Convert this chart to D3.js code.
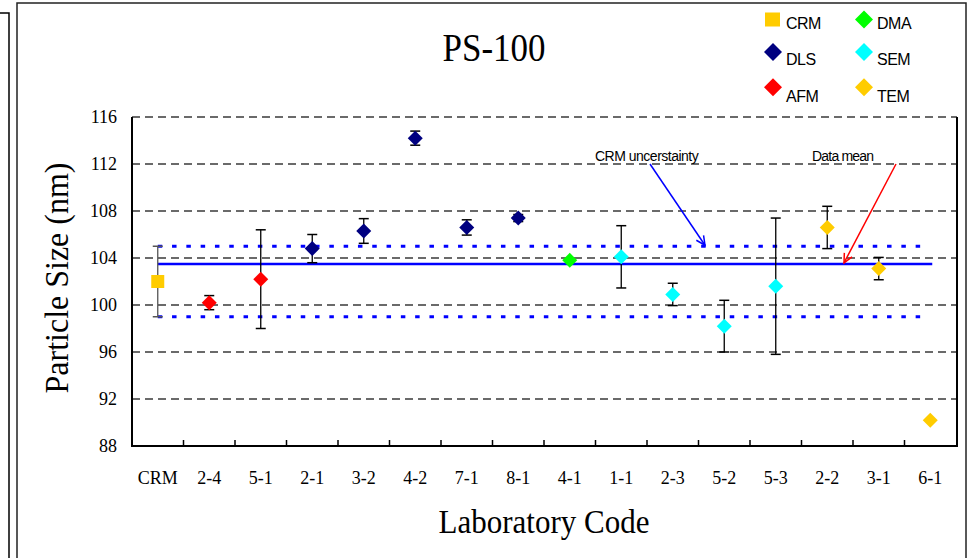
<!DOCTYPE html>
<html><head><meta charset="utf-8">
<script src="https://cdn.jsdelivr.net/npm/d3@7"></script>
<style>html,body{margin:0;padding:0;background:#fff;}svg{display:block;}</style>
</head><body>
<svg id="chart" width="973" height="558"></svg>
<script>
// ---- data ----
const labs = ["CRM","2-4","5-1","2-1","3-2","4-2","7-1","8-1","4-1","1-1","2-3","5-2","5-3","2-2","3-1","6-1"];
const methods = ["CRM","AFM","AFM","DLS","DLS","DLS","DLS","DLS","DMA","SEM","SEM","SEM","SEM","TEM","TEM","TEM"];
const sizes = [102.0,100.2,102.2,104.8,106.3,114.2,106.6,107.4,103.8,104.1,100.9,98.2,101.6,106.6,103.1,90.2];
const uncert = [3.0,0.6,4.2,1.2,1.05,0.6,0.65,0.3,0,2.65,0.95,2.2,5.8,1.8,0.95,0];
const yTicks = [88,92,96,100,104,108,112,116];
const meanVal = 103.5;
const crmLow = 99.0, crmHigh = 105.0;
const legendItems = ["CRM","DMA","DLS","SEM","AFM","TEM"];
const colors = {CRM:"#FFCC00", DLS:"#000080", AFM:"#FF0000", DMA:"#00FF00", SEM:"#00FFFF", TEM:"#FFCC00"};

const svg = d3.select("#chart");
const L = 132, R = 957, T = 117, B = 446;
const x = d3.scaleBand().domain(labs).range([L, R - 1]).padding(0);
const y = d3.scaleLinear().domain([88,116]).range([B, T]);
const cx = d => x(d) + x.bandwidth()/2;

// frames
svg.append("path").attr("d","M0,13H9V558").attr("fill","none").attr("stroke","#000").attr("stroke-width",1.5);
svg.append("rect").attr("x",17).attr("y",3).attr("width",949).attr("height",600)
  .attr("fill","none").attr("stroke","#222").attr("stroke-width",1.5);

// gridlines
svg.append("g").selectAll("line").data(yTicks.filter(v => v > 88)).join("line")
  .attr("x1", L).attr("x2", R).attr("y1", d => y(d)).attr("y2", d => y(d))
  .attr("stroke","#3a3a3a").attr("stroke-width",1.3).attr("stroke-dasharray","8 5");

// axes lines
svg.append("path").attr("d",`M${L},${T}V${B}H${R}V${T}`).attr("fill","none").attr("stroke","#000").attr("stroke-width",2);
// inner category ticks
svg.append("g").selectAll("line").data(labs.slice(1)).join("line")
  .attr("x1", d => x(d)).attr("x2", d => x(d)).attr("y1", B).attr("y2", B-6)
  .attr("stroke","#000").attr("stroke-width",1.5);

const fSerif = "'Liberation Serif','Times New Roman',serif";
const fSans = "'Liberation Sans',Arial,sans-serif";

const gx = svg.append("g").attr("transform",`translate(0,${B})`)
  .call(d3.axisBottom(x).tickSize(0).tickPadding(25));
gx.select(".domain").remove();
gx.selectAll("text").attr("font-family",fSerif).attr("font-size",18).attr("fill","#000");

const gy = svg.append("g").attr("transform",`translate(${L},0)`)
  .call(d3.axisLeft(y).tickValues(yTicks).tickSize(0).tickPadding(15).tickFormat(d3.format("d")));
gy.select(".domain").remove();
gy.selectAll("text").attr("font-family",fSerif).attr("font-size",18).attr("fill","#000");

// CRM uncertainty dotted lines and mean line
const xs = cx(labs[0]), xe = cx(labs[labs.length-1]);
[crmHigh, crmLow].forEach(v => {
  svg.append("line").attr("x1",xs).attr("x2",xe-6).attr("y1",y(v)).attr("y2",y(v))
    .attr("stroke","#0000FF").attr("stroke-width",3).attr("stroke-dasharray","4.5 9.8");
});
svg.append("line").attr("x1",xs).attr("x2",xe+2).attr("y1",y(meanVal)).attr("y2",y(meanVal))
  .attr("stroke","#0000FF").attr("stroke-width",2.5);

// error bars
const eb = svg.append("g");
labs.forEach((lab,i) => {
  const u = uncert[i]; if (!u) return;
  const c = cx(lab), y1 = y(sizes[i]+u), y2 = y(sizes[i]-u);
  const col = i === 0 ? "#555" : "#000";
  eb.append("line").attr("x1",c).attr("x2",c).attr("y1",y1).attr("y2",y2).attr("stroke",col).attr("stroke-width",1.3);
  [y1,y2].forEach(yy => eb.append("line").attr("x1",c-5).attr("x2",c+5).attr("y1",yy).attr("y2",yy).attr("stroke",col).attr("stroke-width",1.5));
});

// markers
const diamond = (c, yy, h) => `M${c},${yy-h}L${c+h},${yy}L${c},${yy+h}L${c-h},${yy}Z`;
labs.forEach((lab,i) => {
  const m = methods[i], c = cx(lab), yy = y(sizes[i]);
  if (m === "CRM") {
    svg.append("rect").attr("x",c-6.5).attr("y",yy-6.5).attr("width",13).attr("height",13).attr("fill",colors[m]);
  } else {
    svg.append("path").attr("d",diamond(c,yy,7.5)).attr("fill",colors[m]);
  }
});

// title and axis titles (slightly tall, like the reference)
svg.append("text").attr("transform","translate(494,61) scale(1,1.12)").attr("text-anchor","middle")
  .attr("font-family",fSerif).attr("font-size",35).text("PS-100");
svg.append("text").attr("transform","translate(68,278) rotate(-90) scale(1,1.08)").attr("text-anchor","middle")
  .attr("font-family",fSerif).attr("font-size",32).text("Particle Size (nm)");
svg.append("text").attr("transform","translate(544,533) scale(1,1.1)").attr("text-anchor","middle")
  .attr("font-family",fSerif).attr("font-size",31).text("Laboratory Code");

// annotations
function arrow(x1,y1,x2,y2,col){
  svg.append("line").attr("x1",x1).attr("y1",y1).attr("x2",x2).attr("y2",y2).attr("stroke",col).attr("stroke-width",1.5);
  const a = Math.atan2(y2-y1,x2-x1), len = 10, sp = 0.45;
  const p1 = [x2 - len*Math.cos(a-sp), y2 - len*Math.sin(a-sp)];
  const p2 = [x2 - len*Math.cos(a+sp), y2 - len*Math.sin(a+sp)];
  svg.append("path").attr("d",`M${p1[0]},${p1[1]}L${x2},${y2}L${p2[0]},${p2[1]}`)
    .attr("fill","none").attr("stroke",col).attr("stroke-width",1.5);
}
svg.append("text").attr("x",595).attr("y",161).attr("font-family",fSans).attr("font-size",14)
  .attr("letter-spacing",-0.5).text("CRM uncerstainty");
arrow(650,164,705,y(crmHigh)-1,"#0000FF");
svg.append("text").attr("x",812).attr("y",161).attr("font-family",fSans).attr("font-size",14)
  .attr("letter-spacing",-0.8).text("Data mean");
arrow(896,164,844,y(meanVal)-1,"#FF0000");

// legend
const lg = svg.append("g");
const legPos = [[773,19.5,22.7],[864,19.5,22.7],[773,52,59],[864,52,59],[773,87.3,96],[864,87.3,96]];
legendItems.forEach((m,i) => {
  const [lx, ly, ty] = legPos[i];
  if (m === "CRM") lg.append("rect").attr("x",lx-8).attr("y",ly-7).attr("width",15).attr("height",14).attr("fill",colors[m]);
  else lg.append("path").attr("d",diamond(lx,ly,9)).attr("fill",colors[m]);
  lg.append("text").attr("x",lx+13).attr("y",ty+6).attr("font-family",fSans).attr("font-size",16)
    .attr("letter-spacing",-0.5).text(m);
});
</script>
</body></html>
